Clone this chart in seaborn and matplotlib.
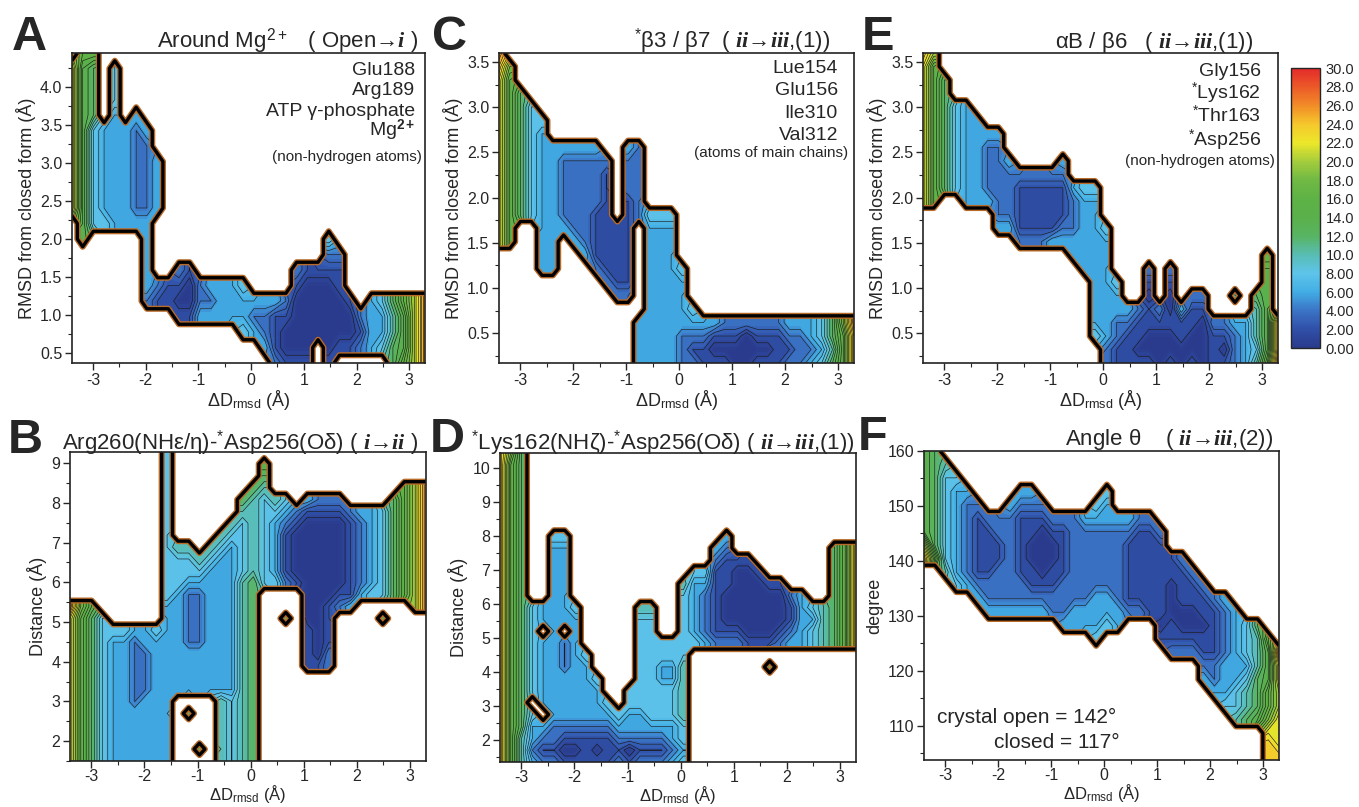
import numpy as np
import matplotlib
matplotlib.use("Agg")
import matplotlib.pyplot as plt
import seaborn as sns
from matplotlib.ticker import MultipleLocator
from matplotlib.cm import ScalarMappable
from matplotlib.colors import Normalize

# ---------------------------------------------------------------------------
# free-energy maps
# each string is one dRMSD bin (left -> right), characters run top -> bottom
# '.' = not sampled, '0'..'f' = 0..30 kJ/mol in steps of 2
# ---------------------------------------------------------------------------
CODES = "0123456789abcdef"

d_rmsd = np.linspace(-3.4, 3.3, 34)

a_rmsd = np.linspace(4.45, 0.37, 21)
a_cols = [
    "." + "b" * 10 + "." * 10, "8" + "7" * 12 + "." * 8, "8" + "6" * 4 + "4" * 7 + "." * 9,
    "." * 5 + "3" * 6 + "4" + "." * 9, "." + "444" + "3" * 8 + "." * 9, "." * 5 + "3" * 7 + "." * 9,
    "." * 4 + "3" + "2" * 6 + "3" + "." * 9, "." * 5 + "3" + "2" * 5 + "3" * 5 + "2" + "." * 4,
    "." * 7 + "3" * 4 + "." * 4 + "21" + "." * 4, "." * 15 + "11" + "." * 4,
    "." * 14 + "2101" + "." * 3, "." * 14 + "1001" + "." * 3, "." * 15 + "223" + "." * 3,
    "." * 15 + "323" + "." * 3, "." * 15 + "333" + "." * 3, "." * 15 + "333" + "." * 3,
    "." * 15 + "4334" + "..", "." * 16 + "323" + "..", "." * 16 + "3223" + ".",
    "." * 16 + "31112", "." * 16 + "21001", "." * 14 + "2100001", "." * 14 + "1000001",
    "." * 14 + "10000..", "." * 12 + "421000001", "." * 13 + "2110001.", "." * 16 + "1001.",
    "." * 17 + "212.", "." * 16 + "3333.", "." * 16 + "4334.", "." * 16 + "65566",
    "." * 16 + "87778", "." * 16 + "aaaaa", "." * 16 + "ddddd",
]

c_rmsd = np.linspace(3.6, 0.17, 24)
c_cols = [
    "dc" + "b" * 13 + "." * 9, "." + "9" + "8" * 13 + "." * 9, "." * 3 + "6" * 10 + "." * 11,
    "." * 4 + "4" * 9 + "." * 11, "." * 5 + "4" + "3" * 11 + "." * 7, "." * 7 + "3" * 10 + "." * 7,
    "." * 7 + "3" + "2" * 5 + "3" + "." * 10, "." * 7 + "3" + "2" * 6 + "3" + "." * 9,
    "." * 7 + "3" + "2" * 7 + "3" + "." * 8, "." * 7 + "3" + "2" * 4 + "1" * 4 + "2" + "." * 7,
    "." * 8 + "2" + "1" * 8 + "2" + "." * 6, "." * 13 + "1" * 5 + "2" + "." * 5,
    "." * 7 + "3" + "222" + "1" * 7 + "2" + "." * 5, "." * 7 + "2" * 6 + "." * 7 + "3" * 4,
    "." * 12 + "4" + "3" * 11, "." * 12 + "4" + "3" * 11, "." * 12 + "4" + "3" * 11,
    "." * 16 + "4" + "3" * 4 + "2" * 3, "." * 19 + "43212", "." * 20 + "3211",
    "." * 20 + "3101", "." * 20 + "2101", "." * 20 + "2100", "." * 20 + "2000",
    "." * 20 + "2101", "." * 20 + "2101", "." * 20 + "2111", "." * 20 + "3212",
    "." * 20 + "3222", "." * 20 + "3323", "." * 20 + "4434", "." * 20 + "6656",
    "." * 20 + "9888", "." * 20 + "dccc",
]

e_rmsd = np.linspace(3.6, 0.17, 24)
e_cols = [
    "c" + "b" * 11 + "." * 12, "a" + "8" * 11 + "." * 12, ".." + "6" * 9 + "." * 13,
    "." * 4 + "4" * 7 + "." * 13, "." * 4 + "3" * 8 + "." * 12, "." * 5 + "3" * 7 + "." * 12,
    "." * 6 + "3" + "2" * 4 + "3" + "." * 12, "." * 6 + "3" + "2" * 6 + "3" + "." * 10,
    "." * 8 + "3" + "2" * 4 + "3" + "." * 10, "." * 9 + "2" + "1" * 4 + "2" + "." * 9,
    "." * 9 + "2" + "1" * 4 + "2" + "." * 9, "." * 9 + "2" + "1" * 4 + "2" + "." * 9,
    "." * 9 + "2" + "1" * 4 + "3" + "." * 9, "." * 8 + "32" + "111" + "23" + "." * 9,
    "." * 10 + "3" + "222" + "33" + "." * 8, "." * 10 + "4" + "3" * 6 + "." * 7,
    "." * 10 + "4" + "3" * 10 + "4" + "..", "." * 13 + "4" + "3" * 8 + "22",
    "." * 17 + "4332211", "." * 19 + "32111", "." * 19 + "21101", "." * 16 + "21011001",
    "." * 19 + "21000", "." * 16 + "21001001", "." * 19 + "31100", "." * 18 + "211001",
    "." * 18 + "210000", "." * 20 + "2111", "." * 20 + "2101", "." * 18 + "5." + "3222",
    "." * 20 + "3333", "." * 18 + "655545", "." * 15 + "8" + "7" * 7 + "8", "." * 20 + "cccd",
]

b_dist = np.linspace(9.28, 1.5, 27)
b_cols = [
    "." * 13 + "d" + "b" * 13, "." * 13 + "9" + "8" * 13, "." * 13 + "7" + "6" * 13,
    "." * 14 + "4" * 13, "." * 15 + "4" + "3" * 11, "." * 15 + "4" + "3" * 11,
    "." * 15 + "3" + "2" * 6 + "3" * 5, "." * 15 + "33" + "2" * 4 + "3" * 6,
    "." * 15 + "4" + "3" * 11, "4" * 13 + "3" * 14,
    "." * 8 + "5" + "444" + "3" * 9 + "." * 6,
    "." * 8 + "5443" + "2" * 5 + "3" * 4 + "." + "6" + "." * 4,
    "." * 9 + "543" + "2" * 5 + "3" * 4 + "." * 4 + "6" + ".",
    "." * 8 + "54" + "3" * 11 + "." * 6, "." * 7 + "54" + "3" * 12 + "5" * 6,
    "." * 6 + "54" + "3" * 13 + "4" * 6, "." * 4 + "65" + "4" * 5 + "5" * 16,
    "." * 3 + "6" + "5" * 7 + "6" * 16, "." + "765" + "4" * 8 + "." * 15,
    "." * 4 + "54" + "3" * 5 + "4" + "." * 15, "." * 4 + "432" + "1" * 4 + "2" + ".." + "6" + "." * 12,
    "." * 5 + "21" + "0" * 4 + "1" + "." * 15, "." * 4 + "31" + "0" * 9 + "1" * 4 + "." * 8,
    "." * 4 + "21" + "0" * 12 + "1" + "." * 8, "." * 4 + "21" + "0" * 7 + "1" * 4 + "22" + "." * 8,
    "." * 4 + "21" + "0" * 6 + "12" + "." * 13, "." * 5 + "2" + "1" * 7 + "3" + "." * 13,
    "." * 5 + "3" + "2" * 6 + "3" + "." * 14, "." * 5 + "3" * 7 + "4" + "." * 14,
    "." * 5 + "4" * 8 + "." + "6" + "." * 12, "." * 4 + "6" * 9 + "." * 14,
    "." * 3 + "8" * 10 + "." * 14, "." * 3 + "a" * 11 + "." * 13, "." * 3 + "d" * 11 + "." * 13,
]

d_dist = np.linspace(10.45, 1.35, 27)
d_cols = [
    "c" * 27, "9" + "8" * 26, "6" * 24 + "555",
    "." * 13 + "4" * 8 + "." + "4" + "33" + "2" + "3",
    "." * 13 + "33" + "." + "3" * 6 + "." + "3212",
    "." * 7 + "4" + "3" * 15 + "2212",
    "." * 7 + "4" + "3" * 7 + "." + "222" + "3333" + "2101",
    "." * 13 + "4" + "3" * 9 + "2101", "." * 17 + "4" + "3" * 5 + "2111",
    "." * 19 + "4" + "333" + "2101", "." * 21 + "432111", "." * 22 + "43212",
    "." * 20 + "4433201", "." * 13 + "5" + "4" * 8 + "33212", "." * 13 + "5" + "4" * 9 + "3212",
    "." * 16 + "4433444" + "3212", "." * 16 + "4433444" + "3323",
    "." * 11 + "5" + "4" * 6 + "5" * 5 + "4434", "." * 10 + "4" + "3" * 5 + "4" + "." * 10,
    "." * 10 + "43" + "2" * 4 + "3" + "." * 10, "." * 8 + "32" + "1" * 6 + "2" + "." * 10,
    "." * 7 + "32" + "111" + "000" + "12" + "." * 10, "." * 9 + "1" + "0" * 5 + "12" + "." * 10,
    "." * 9 + "1" + "0" * 6 + "1" + "." * 10, "." * 10 + "1" + "0" * 5 + "1" + "." * 10,
    "." * 11 + "1" + "0" * 4 + "1" + "." + "6" + "." * 8, "." * 11 + "1" + "000" + "12" + "." * 10,
    "." * 12 + "21123" + "." * 10, "." * 12 + "33333" + "." * 10, "." * 13 + "4344" + "." * 10,
    "." * 13 + "5555" + "." * 10, "." * 8 + "6" * 9 + "." * 10, "." * 8 + "8" * 9 + "." * 10,
    "." * 8 + "c" * 9 + "." * 10,
]

f_angle = np.linspace(160.0, 103.8, 24)
f_cols = [
    "7" * 7 + "ac" + "." * 15, "6" * 8 + "8" + "." * 15, "." + "5" + "4" * 7 + "5" + "." * 14,
    ".." + "4" + "3" * 7 + "4" + "." * 13, "..." + "3" + "2" * 6 + "3" + "." * 13,
    "...." + "2" + "1" * 5 + "23" + "." * 12, "." * 5 + "2" + "1" * 4 + "223" + "." * 11,
    "." * 5 + "22112223" + "." * 11, "." * 4 + "3" + "2" * 7 + "3" + "." * 11,
    "..." + "32" + "1" * 5 + "223" + "." * 11, "..." + "3211001123" + "." * 11,
    "...." + "21" + "0000" + "123" + "." * 11, "." * 5 + "21001122" + "." * 11,
    "." * 5 + "2" + "1111" + "2223" + "." * 10, "." * 5 + "2" * 7 + "33" + "." * 10,
    "." * 5 + "3" + "2" * 6 + "33" + "." * 10, "...." + "43" + "2" * 5 + "333" + "4" + "." * 9,
    "..." + "433" + "2" * 5 + "334" + "." * 10, "." * 5 + "3" + "2" * 6 + "33" + "." * 10,
    "." * 5 + "32" + "1" * 5 + "2" + "." * 11, "." * 5 + "2" + "1" * 6 + "2" + "." * 11,
    "." * 5 + "2" + "1" * 7 + "." * 11, "." * 6 + "2" + "1" * 6 + "01" + "." * 9,
    "." * 8 + "11" + "000" + "112" + "." * 8, "." * 8 + "2" + "111" + "00" + "12" + "." * 8,
    "." * 9 + "2110012" + "." * 8, "." * 10 + "21101123" + "." * 6,
    "." * 11 + "2" + "1111" + "223" + "." * 5, "." * 11 + "3" + "2222" + "333" + "4" + "." * 4,
    "." * 12 + "3" * 6 + "445" + "...", "." * 13 + "44434556" + "...",
    "." * 13 + "65556667" + "...", "." * 14 + "8777889bcc", "." * 15 + "dbbaabbbc",
]

cbar_ticks = np.arange(0, 31, 2)
cbar_labels = ["0.00", "2.00", "4.00", "6.00", "8.00", "10.0", "12.0", "14.0",
               "16.0", "18.0", "20.0", "22.0", "24.0", "26.0", "28.0", "30.0"]

# ---------------------------------------------------------------------------
sns.set_style("ticks")
plt.rcParams["font.family"] = ["Liberation Sans", "DejaVu Sans"]
plt.rcParams["mathtext.fontset"] = "custom"
plt.rcParams["mathtext.rm"] = "Liberation Sans"
plt.rcParams["mathtext.it"] = "Liberation Serif:italic:bold"
plt.rcParams["mathtext.bf"] = "Liberation Sans:bold"
plt.rcParams["axes.unicode_minus"] = False

cmap = sns.blend_palette(["#2a3a8c", "#3050a8", "#3b74c6", "#42aee5", "#5ec4ea", "#58bdb2",
                          "#58b462", "#5ab04a", "#5eb246", "#70b944", "#a4cc3c", "#ece72a",
                          "#f5c82c", "#f28c28", "#ec5a28", "#e42a2a"], as_cmap=True)

W, H = 1359, 807
fig = plt.figure(figsize=(W / 100, H / 100), dpi=100)


def box(l, t, r, b):
    return [l / W, 1 - b / H, (r - l) / W, (b - t) / H]


def to_grid(cols, n):
    z = np.zeros((n, len(cols)))
    ok = np.zeros((n, len(cols)), bool)
    for j, col in enumerate(cols):
        for i, ch in enumerate(col[:n]):
            if ch != ".":
                z[i, j] = CODES.index(ch) * 2.0
                ok[i, j] = True
    return z, ok


def spread(z, ok):
    # give unsampled bins the value of their sampled neighbours (covered in white later)
    z = z.copy()
    ok = ok.copy()
    while not ok.all():
        zp = np.pad(z, 1)
        kp = np.pad(ok, 1).astype(float)
        s = (zp[:-2, 1:-1] * kp[:-2, 1:-1] + zp[2:, 1:-1] * kp[2:, 1:-1]
             + zp[1:-1, :-2] * kp[1:-1, :-2] + zp[1:-1, 2:] * kp[1:-1, 2:])
        n = kp[:-2, 1:-1] + kp[2:, 1:-1] + kp[1:-1, :-2] + kp[1:-1, 2:]
        new = (~ok) & (n > 0)
        z[new] = s[new] / n[new]
        ok |= new
    return z


def panel(rect, cols, yv, ylim, ymaj, ymin, ylabel, bottom_row):
    ax = fig.add_axes(rect)
    z, ok = to_grid(cols, len(yv))
    zf = spread(z, ok)
    m = ok.astype(float)
    ax.contourf(d_rmsd, yv, zf, levels=np.linspace(0, 30, 61), cmap=cmap, vmin=0, vmax=30,
                extend="both", zorder=1)
    ax.contour(d_rmsd, yv, zf, levels=np.arange(1, 30, 1), colors="#1a1a1a", linewidths=0.45,
               zorder=2)
    ax.contourf(d_rmsd, yv, m, levels=[-1, 0.5], colors="white", zorder=3)
    ax.contour(d_rmsd, yv, m, levels=[0.5], colors="#b86a28", linewidths=4.4, zorder=4)
    ax.contour(d_rmsd, yv, m, levels=[0.5], colors="k", linewidths=2.4, zorder=4)
    ax.set_xlim(-3.4, 3.3)
    ax.set_ylim(*ylim)
    ax.xaxis.set_major_locator(MultipleLocator(1))
    ax.xaxis.set_minor_locator(MultipleLocator(0.5))
    ax.yaxis.set_major_locator(MultipleLocator(ymaj))
    ax.yaxis.set_minor_locator(MultipleLocator(ymin))
    ax.tick_params(which="major", direction="out", length=5, width=1, labelsize=11.5, pad=2)
    ax.tick_params(which="minor", direction="out", length=3, width=0.8)
    for s in ax.spines.values():
        s.set_linewidth(1.2)
        s.set_color("#222222")
        s.set_zorder(6)
    if bottom_row:
        ax.tick_params(axis="x", which="major", pad=1)
        ax.set_xlabel("ΔD$_{\\rm rmsd}$ (Å)", fontsize=12, labelpad=-1)
    else:
        ax.set_xlabel("ΔD$_{\\rm rmsd}$ (Å)", fontsize=13, labelpad=0)
    ax.set_ylabel(ylabel, fontsize=13, labelpad=3)
    return ax


rmsd_lab = "RMSD from closed form (Å)"
ax_a = panel(box(72, 53, 425, 363), a_cols, a_rmsd, (0.37, 4.45), 0.5, 0.25, rmsd_lab, False)
ax_c = panel(box(499, 53, 854, 363), c_cols, c_rmsd, (0.17, 3.6), 0.5, 0.25, rmsd_lab, False)
ax_e = panel(box(923, 53, 1278, 363), e_cols, e_rmsd, (0.17, 3.6), 0.5, 0.25, rmsd_lab, False)
ax_b = panel(box(70, 452, 426, 761), b_cols, b_dist, (1.5, 9.28), 1, 0.5, "Distance (Å)", True)
ax_d = panel(box(500, 453, 856, 762), d_cols, d_dist, (1.35, 10.45), 1, 0.5, "Distance (Å)", True)
ax_f = panel(box(924, 451, 1279, 760), f_cols, f_angle, (103.8, 160), 10, 5, "degree", True)


def ftext(x, y, s, **kw):
    fig.text(x / W, 1 - y / H, s, va="baseline", **kw)


# panel letters
for letter, x, y in [("A", 12, 50), ("C", 432, 50), ("E", 862, 50),
                     ("B", 8, 453), ("D", 430, 452), ("F", 858, 450)]:
    ftext(x, y, letter, fontsize=35, fontweight="bold", ha="left")

# titles
ftext(418, 48, "Around Mg$^{2+}$   ( Open→$i$ )", fontsize=16, ha="right")
ftext(830, 48, "$^{*}$β3 / β7  ( $ii$→$iii$,(1))", fontsize=16, ha="right")
ftext(1253, 48, "αB / β6   ( $ii$→$iii$,(1))", fontsize=16, ha="right")
ftext(418, 449, "Arg260(NHε/η)-$^{*}$Asp256(Oδ) ( $i$→$ii$ )", fontsize=16, ha="right")
ftext(855, 449, "$^{*}$Lys162(NHζ)-$^{*}$Asp256(Oδ) ( $ii$→$iii$,(1))", fontsize=16, ha="right")
ftext(1273, 445, "Angle θ    ( $ii$→$iii$,(2))", fontsize=16, ha="right")

# atom-group notes
for s, y in zip(["Glu188", "Arg189", "ATP γ-phosphate", "Mg$^{\\mathbf{2+}}$"], [75, 95, 116, 136]):
    ftext(415, y, s, fontsize=14, ha="right", zorder=10)
ftext(422, 161, "(non-hydrogen atoms)", fontsize=11, ha="right", zorder=10)
for s, y in zip(["Lue154", "Glu156", "Ile310", "Val312"], [73, 95, 118, 140]):
    ftext(838, y, s, fontsize=14, ha="right", zorder=10)
ftext(848, 157, "(atoms of main chains)", fontsize=11, ha="right", zorder=10)
for s, y in zip(["Gly156", "$^{*}$Lys162", "$^{*}$Thr163", "$^{*}$Asp256"], [76, 99, 122, 146]):
    ftext(1261, y, s, fontsize=14, ha="right", zorder=10)
ftext(1275, 165, "(non-hydrogen atoms)", fontsize=11, ha="right", zorder=10)
ftext(937, 723, "crystal open = 142°", fontsize=15, ha="left", zorder=10)
ftext(1120, 748, "closed = 117°", fontsize=15, ha="right", zorder=10)

# colour bar
cax = fig.add_axes(box(1291, 68, 1320, 348))
sm = ScalarMappable(norm=Normalize(0, 30), cmap=cmap)
cb = fig.colorbar(sm, cax=cax, ticks=cbar_ticks)
cb.ax.set_yticklabels(cbar_labels)
cb.ax.tick_params(length=0, labelsize=10.5, pad=4)
cb.outline.set_linewidth(1)

fig.savefig("out.png", dpi=100, facecolor="white")
